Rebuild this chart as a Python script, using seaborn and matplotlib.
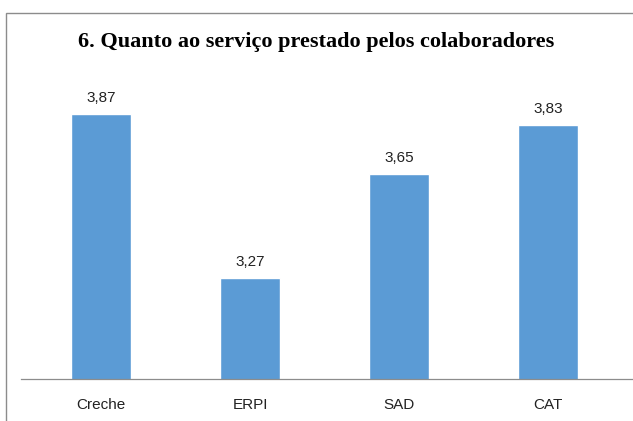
import matplotlib
matplotlib.use("Agg")
import matplotlib.pyplot as plt
import seaborn as sns
import pandas as pd
from matplotlib.patches import Rectangle

categories = ["Creche", "ERPI", "SAD", "CAT"]
values = [3.87, 3.27, 3.65, 3.83]
value_labels = ["3,87", "3,27", "3,65", "3,83"]
title = "6. Quanto ao serviço prestado pelos colaboradores"

sns.set_theme(style="white")
plt.rcParams['font.family'] = ['Liberation Sans', 'DejaVu Sans']

df = pd.DataFrame({"cat": categories, "val": values})

fig = plt.figure(figsize=(6.33, 4.21), dpi=100)
ax = fig.add_axes([21/633, 42/421, 612/633, (379-78.4)/421])

sns.barplot(data=df, x="cat", y="val", color="#5B9BD5", width=0.4,
            saturation=1, ax=ax)
ax.set_ylim(2.9, 4.0)
ax.set_xlim(-0.537, 3.57)

for i, (v, t) in enumerate(zip(values, value_labels)):
    ax.annotate(t, (i, v), xytext=(0, 6.5), textcoords="offset points",
                ha="center", va="bottom", fontsize=11, color="#222222")

for s in ["top", "right", "left"]:
    ax.spines[s].set_visible(False)
ax.spines["bottom"].set_color("#8c8c8c")
ax.spines["bottom"].set_linewidth(0.9)
ax.set_yticks([])
ax.set_xlabel("")
ax.set_ylabel("")
ax.tick_params(axis="x", length=0, pad=13.5, labelsize=11, labelcolor="#222222")

fig.text(0.5, 1 - 42/421, title, ha="center", va="center",
         fontsize=16, fontweight="bold", family=["Liberation Serif"], color="black")

fig.patches.append(Rectangle((6/633, -0.1), 1.2, 1 - 13/421 + 0.1,
                             transform=fig.transFigure, fill=False,
                             edgecolor="#8c8c8c", linewidth=1.0))

fig.savefig("out.png", dpi=100)
